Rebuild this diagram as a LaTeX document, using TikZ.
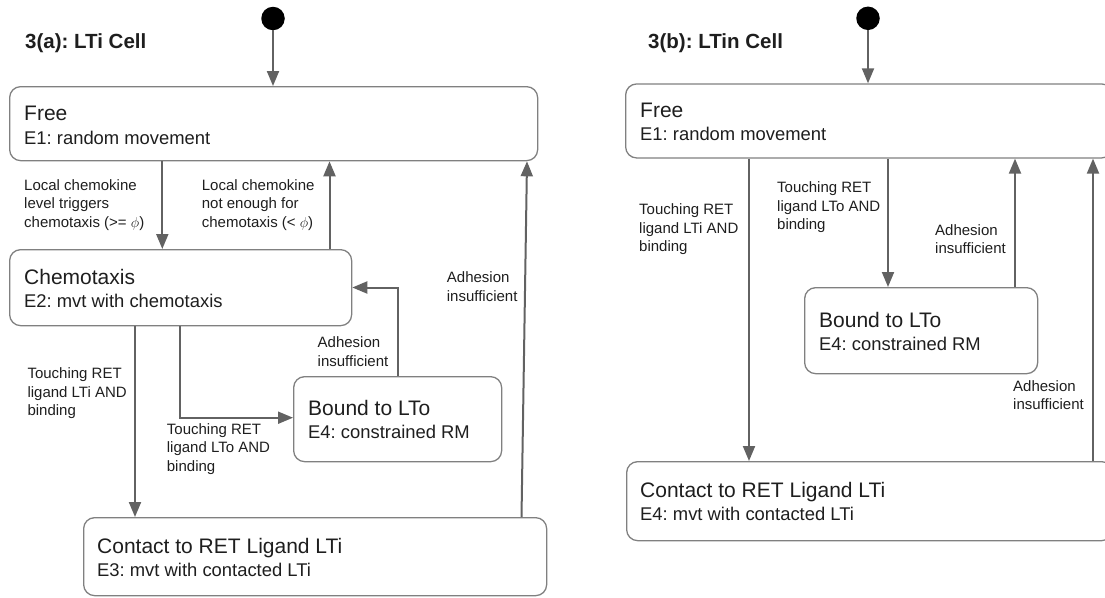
\documentclass[tikz,border=0pt]{standalone}
\usepackage{fontspec}
\setmainfont{Liberation Sans}
\usetikzlibrary{arrows.meta}
\definecolor{linecol}{HTML}{626262}
\definecolor{boxcol}{HTML}{808080}
\definecolor{txtcol}{HTML}{1E1E1E}
\frenchspacing
\begin{document}
\begin{tikzpicture}[x=1pt,y=-1pt,
  state/.style={draw=boxcol, line width=1.3pt, rounded corners=11pt, inner sep=0pt, anchor=north west},
  ttl/.style={font=\fontsize{21}{25}\selectfont, anchor=base west, inner sep=0pt, text=txtcol},
  sub/.style={font=\fontsize{18.4}{22}\selectfont, anchor=base west, inner sep=0pt, text=txtcol},
  lbl/.style={font=\fontsize{15}{18.5}\selectfont, align=left, anchor=north west, inner sep=0pt, text=txtcol},
  head/.style={font=\bfseries\fontsize{20.5}{24}\selectfont, anchor=base west, inner sep=0pt, text=txtcol},
  arr/.style={draw=linecol, line width=2pt, -{Triangle[length=15pt,width=12pt]}},
  startdot/.style={circle, fill=black, minimum size=23.5pt, inner sep=0pt}]
\useasboundingbox (0,0) rectangle (1105,597);
\clip (0,0) rectangle (1105,597);

% ---------------- Panel 3(a) ----------------
\node[head] (headA) at (25,48) {3(a): LTi Cell};
\node[startdot] (dotA) at (273,18.5) {};

\node[state, minimum width=528pt, minimum height=74pt] (freeA) at (9,86) {};
\node[ttl] (freeAt) at (24,120) {Free};
\node[sub] (freeAs) at (24,144) {E1: random movement};

\node[state, minimum width=342pt, minimum height=76pt] (chemA) at (9,249) {};
\node[ttl] (chemAt) at (24,284) {Chemotaxis};
\node[sub] (chemAs) at (24,307) {E2: mvt with chemotaxis};

\node[state, minimum width=208pt, minimum height=85pt] (boundA) at (293,376) {};
\node[ttl] (boundAt) at (308,415) {Bound to LTo};
\node[sub] (boundAs) at (308,438) {E4: constrained RM};

\node[state, minimum width=463pt, minimum height=78pt] (contA) at (83,517) {};
\node[ttl] (contAt) at (97,553) {Contact to RET Ligand LTi};
\node[sub] (contAs) at (97,576) {E3: mvt with contacted LTi};

\coordinate (xA1) at (162.3,0);
\coordinate (xA2) at (329.5,0);
\coordinate (xA3t) at (527,0);
\coordinate (xA3b) at (521.5,0);
\coordinate (xA4) at (397.7,0);
\coordinate (yA4) at (0,287.5);
\coordinate (xA5) at (180,0);
\coordinate (yA5) at (0,417.7);
\coordinate (xA6) at (135,0);

\draw[arr] (dotA.south) -- (dotA.south |- freeA.north);
\draw[arr] (freeA.south -| xA1) -- (chemA.north -| xA1);
\draw[arr] (chemA.north -| xA2) -- (freeA.south -| xA2);
\draw[arr] (contA.north -| xA3b) -- (freeA.south -| xA3t);
\draw[arr] (boundA.north -| xA4) |- (chemA.east |- yA4);
\draw[arr] (chemA.south -| xA5) |- (boundA.west |- yA5);
\draw[arr] (chemA.south -| xA6) -- (contA.north -| xA6);

\node[lbl] (lA1) at (24,179.3) {Local chemokine\\level triggers\\chemotaxis (>= $\phi$)};
\node[lbl] (lA2) at (201.7,179.3) {Local chemokine\\not enough for\\chemotaxis (< $\phi$)};
\node[lbl] (lA3) at (446.7,271.7) {Adhesion\\insufficient};
\node[lbl] (lA4) at (317.5,336.7) {Adhesion\\insufficient};
\node[lbl] (lA5) at (27.3,367.7) {Touching RET\\ligand LTi AND\\binding};
\node[lbl] (lA6) at (166.7,423.3) {Touching RET\\ligand LTo AND\\binding};

% ---------------- Panel 3(b) ----------------
\node[head] (headB) at (648,48) {3(b): LTin Cell};
\node[startdot] (dotB) at (868,18.3) {};

\node[state, minimum width=487pt, minimum height=74pt] (freeB) at (625,83.3) {};
\node[ttl] (freeBt) at (640,117) {Free};
\node[sub] (freeBs) at (640,140) {E1: random movement};

\node[state, minimum width=233pt, minimum height=86pt] (boundB) at (804,287) {};
\node[ttl] (boundBt) at (819,327) {Bound to LTo};
\node[sub] (boundBs) at (819,350) {E4: constrained RM};

\node[state, minimum width=486pt, minimum height=79pt] (contB) at (626,461) {};
\node[ttl] (contBt) at (640,497) {Contact to RET Ligand LTi};
\node[sub] (contBs) at (640,520) {E4: mvt with contacted LTi};

\coordinate (xB1) at (749,0);
\coordinate (xB2) at (888,0);
\coordinate (xB3) at (1015,0);
\coordinate (xB4) at (1093,0);

\draw[arr] (dotB.south) -- (dotB.south |- freeB.north);
\draw[arr] (freeB.south -| xB1) -- (contB.north -| xB1);
\draw[arr] (freeB.south -| xB2) -- (boundB.north -| xB2);
\draw[arr] (boundB.north -| xB3) -- (freeB.south -| xB3);
\draw[arr] (contB.north -| xB4) -- (freeB.south -| xB4);

\node[lbl] (lB1) at (639,203.5) {Touching RET\\ligand LTi AND\\binding};
\node[lbl] (lB2) at (777,181.5) {Touching RET\\ligand LTo AND\\binding};
\node[lbl] (lB3) at (935,224) {Adhesion\\insufficient};
\node[lbl] (lB4) at (1013,380) {Adhesion\\insufficient};
\end{tikzpicture}
\end{document}
